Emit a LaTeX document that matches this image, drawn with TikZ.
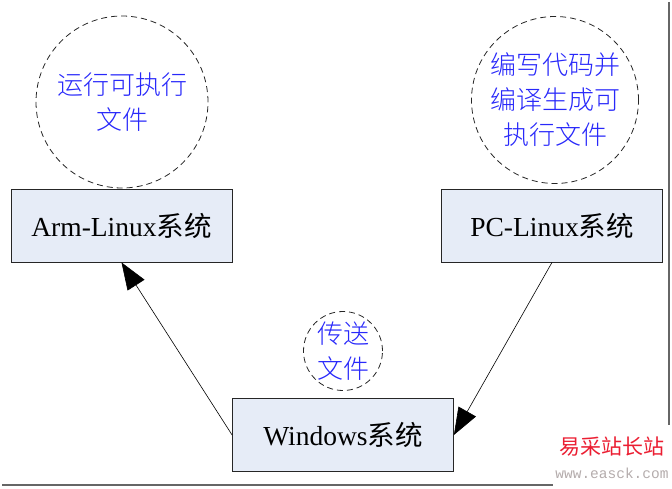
\documentclass[tikz,border=0pt]{standalone}
\usepackage{fontspec}
\setmainfont{Liberation Serif}
\newfontfamily\cjk{Noto Sans CJK SC}
\newfontfamily\cjklight{Noto Sans CJK SC Light}
\newfontfamily\wmmono{Liberation Mono}
\usetikzlibrary{arrows.meta}

\definecolor{boxfill}{RGB}{230,236,247}
\definecolor{noteblue}{RGB}{40,40,250}
\definecolor{wmred}{RGB}{235,30,50}
\definecolor{wmgray}{RGB}{180,172,172}

\begin{document}
\begin{tikzpicture}[x=1pt,y=1pt,
        sysbox/.style={draw=black!85,line width=0.8pt,fill=boxfill,
            minimum width=221pt,minimum height=73pt,inner sep=0pt,
            font=\fontsize{27.5}{33}\selectfont},
        note/.style={circle,draw=black!85,line width=0.8pt,
            dash pattern=on 6pt off 4pt,inner sep=0pt,align=center,
            text=noteblue,font=\cjklight\fontsize{26}{35}\selectfont},
        link/.style={line width=0.6pt,-{Triangle[length=27pt,width=20pt]}}]
    \useasboundingbox (0,0) rectangle (672,488);
    % frame shadow
    \draw[line width=2.2pt,black!60] (669,486) -- (669,63);
    \draw[line width=2.2pt,black!60] (2,3) -- (553,3);

    \node[sysbox] (arm) at (121.5,262.5) {Arm-Linux{\cjk 系统}};
    \node[sysbox] (pc)  at (552,262.5)   {PC-Linux{\cjk 系统}};
    \node[sysbox] (win) at (343,53)      {Windows{\cjk 系统}};

    \node[note,minimum size=172pt] (run)  at (122,386) {运行可执行\\文件};
    \node[note,minimum size=167pt] (make) at (555,388) {编写代码并\\编译生成可\\执行文件};
    \node[note,minimum size=79pt]  (send) at (343,137) {传送\\文件};

    \draw[link] (win.west) -- (arm.south);
    \draw[link] (pc.south) -- (win.east);

    % watermark
    \node[text=wmred,font=\cjk\fontsize{21}{21}\selectfont,inner sep=0pt] (wm) at (612,41) {易采站长站};
    \node[text=wmgray,font=\wmmono\fontsize{14.5}{15}\selectfont,inner sep=0pt] (url) at (612,15) {www.easck.com};
\end{tikzpicture}
\end{document}
